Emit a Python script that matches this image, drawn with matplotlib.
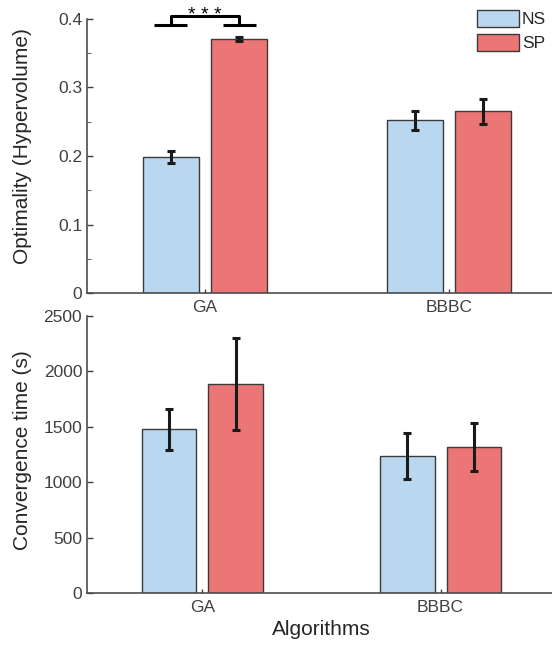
import numpy as np
import matplotlib
matplotlib.use('Agg')
import matplotlib.pyplot as plt
from matplotlib.ticker import MultipleLocator

plt.rcParams['font.family'] = ['Liberation Sans', 'DejaVu Sans']

algorithms = ['GA', 'BBBC']
series = ['NS', 'SP']
colors = ['#B9D8F0', '#EC7575']

hv_mean = {'NS': [0.199, 0.252], 'SP': [0.371, 0.265]}
hv_err = {'NS': [0.009, 0.014], 'SP': [0.003, 0.018]}

ct_mean = {'NS': [1477, 1234], 'SP': [1888, 1318]}
ct_err = {'NS': [185, 207], 'SP': [417, 218]}

txt_col = '#262626'
tick_col = '#404040'
offsets = [-0.14, 0.14]
width = 0.23
x = np.arange(1, len(algorithms) + 1)

fig = plt.figure(figsize=(5.52, 6.48), dpi=100)
ax_hv = fig.add_axes([0.1576, 0.5478, 0.8678, 0.4229])
ax_ct = fig.add_axes([0.1576, 0.0849, 0.8478, 0.4274])


def draw_bars(ax, mean, err):
    handles = []
    for s, off, c in zip(series, offsets, colors):
        b = ax.bar(x + off, mean[s], width, color=c, edgecolor='#3a3a3a',
                   linewidth=1.0, label=s, zorder=2)
        ax.errorbar(x + off, mean[s], yerr=err[s], fmt='none', ecolor='#1a1a1a',
                    elinewidth=2.2, capsize=3, capthick=2.2, zorder=3)
        handles.append(b)
    ax.set_xticks(x)
    ax.set_xticklabels(algorithms)
    ax.spines['top'].set_visible(False)
    ax.spines['right'].set_visible(False)
    for sp in ['left', 'bottom']:
        ax.spines[sp].set_color('#4d4d4d')
        ax.spines[sp].set_linewidth(1.2)
    ax.tick_params(direction='in', length=4, width=1, colors=tick_col,
                   labelsize=12.5, labelcolor=tick_col)
    ax.tick_params(axis='x', length=3, pad=5)
    ax.set_xlim(0.516, 2.48)
    return handles


handles = draw_bars(ax_hv, hv_mean, hv_err)
ax_hv.set_ylim(0, 0.4)
ax_hv.set_yticks([0, 0.1, 0.2, 0.3, 0.4])
ax_hv.set_yticklabels(['0', '0.1', '0.2', '0.3', '0.4'])
ax_hv.yaxis.set_minor_locator(MultipleLocator(0.05))
ax_hv.tick_params(axis='y', which='minor', direction='in', length=3,
                  color=tick_col)
ax_hv.set_ylabel('Optimality (Hypervolume)', fontsize=15, color=txt_col)
ax_hv.yaxis.set_label_coords(-0.1148, 0.536)

# significance bracket
xl, xr = x[0] + offsets[0], x[0] + offsets[1]
y_lo, y_hi = 0.391, 0.404
hw = 0.068
kw = dict(color='black', lw=2.2, clip_on=False, solid_capstyle='butt')
ax_hv.plot([xl - hw, xl + hw], [y_lo, y_lo], **kw)
ax_hv.plot([xr - hw, xr + hw], [y_lo, y_lo], **kw)
ax_hv.plot([xl, xl, xr, xr], [y_lo, y_hi, y_hi, y_lo], **kw)
ax_hv.text(x[0], 0.3985, '* * *', ha='center', va='baseline', fontsize=14,
           color='black', clip_on=False)

leg = ax_hv.legend(handles=handles, loc='upper left',
                   bbox_to_anchor=(0.814, 1.033), frameon=False,
                   fontsize=12.5, handlelength=2.4, handleheight=1.1,
                   handletextpad=0.2, labelspacing=0.4, borderaxespad=0,
                   borderpad=0)
for t in leg.get_texts():
    t.set_color(txt_col)

draw_bars(ax_ct, ct_mean, ct_err)
ax_ct.set_ylim(0, 2500)
ax_ct.set_yticks([0, 500, 1000, 1500, 2000, 2500])
ax_ct.set_ylabel('Convergence time (s)', fontsize=15, color=txt_col)
ax_ct.yaxis.set_label_coords(-0.1175, 0.516)
ax_ct.set_xlabel('Algorithms', fontsize=15, color=txt_col, labelpad=4)

fig.savefig('out.png', dpi=100)
